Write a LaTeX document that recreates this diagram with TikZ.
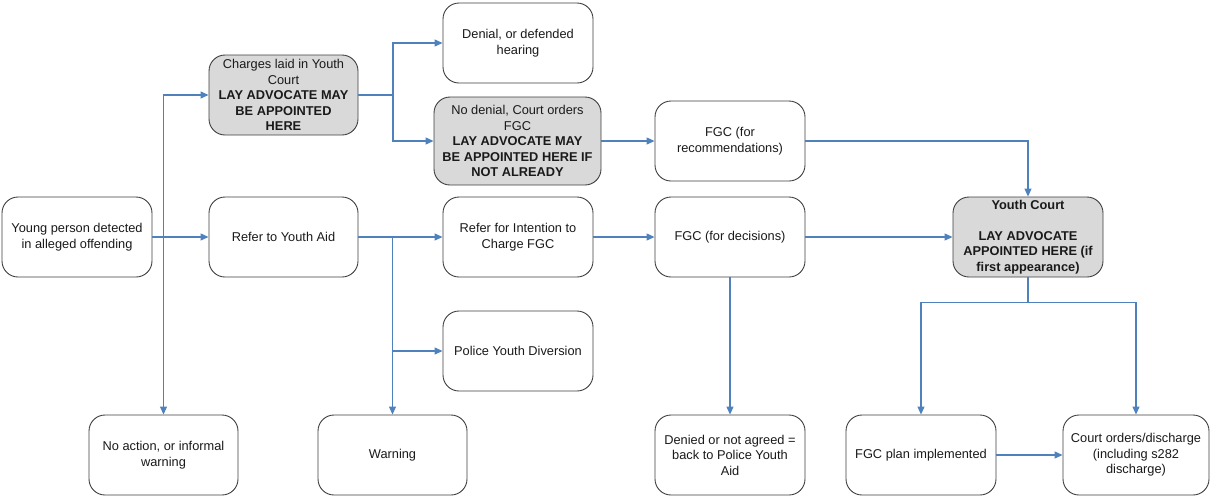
\documentclass[tikz,border=0pt]{standalone}
\usepackage{fontspec}
\setmainfont{Liberation Sans}
\usetikzlibrary{arrows.meta,calc}
\definecolor{linkblue}{HTML}{4F81BD}
\definecolor{boxline}{HTML}{3F3F3F}
\definecolor{boxfill}{HTML}{D9D9D9}
\definecolor{txt}{HTML}{1A1A1A}
\tikzset{
  box/.style={draw=boxline, line width=0.9pt, rounded corners=16pt, fill=white,
    minimum width=150pt, minimum height=80pt, inner sep=1pt, align=center,
    text=txt, font=\fontsize{12.8}{15.5}\selectfont},
  hbox/.style={box, fill=boxfill},
  link/.style={draw=linkblue, line width=1.1pt},
  arr/.style={link, -{Triangle[length=8pt,width=7pt]}}
}
\begin{document}
\begin{tikzpicture}[x=1pt,y=-1pt]
\useasboundingbox (0,0) rectangle (1210,496);
% nodes
\node[box] (young) at (77,237) {Young person detected\\in alleged offending};
\node[hbox, minimum width=149pt] (charges) at (283.5,95) {Charges laid in Youth\\Court\\\textbf{LAY ADVOCATE MAY}\\\textbf{BE APPOINTED}\\\textbf{HERE}};
\node[box, minimum width=149pt] (refer) at (283.5,237) {Refer to Youth Aid};
\node[box] (denial) at (518,43) {Denial, or defended\\hearing};
\node[hbox, minimum width=167pt, minimum height=88pt] (nodenial) at (517.5,141) {No denial, Court orders\\FGC\\\textbf{LAY ADVOCATE MAY}\\\textbf{BE APPOINTED HERE IF}\\\textbf{NOT ALREADY}};
\node[box] (intent) at (518,237) {Refer for Intention to\\Charge FGC};
\node[box] (fgcrec) at (730,141) {FGC (for\\recommendations)};
\node[box] (fgcdec) at (730,237) {FGC (for decisions)};
\node[hbox] (court) at (1028,237) {\textbf{Youth Court}\\[15.5pt]\textbf{LAY ADVOCATE}\\\textbf{APPOINTED HERE (if}\\\textbf{first appearance)}};
\node[box] (diversion) at (518,351) {Police Youth Diversion};
\node[box, minimum width=149pt] (noaction) at (163.5,455) {No action, or informal\\warning};
\node[box, minimum width=149pt] (warning) at (392.5,455) {Warning};
\node[box] (denied) at (730,455) {Denied or not agreed =\\back to Police Youth\\Aid};
\node[box] (plan) at (921,455) {FGC plan implemented};
\node[box, minimum width=146pt] (orders) at (1136,455) {Court orders/discharge\\(including s282\\discharge)};
% junctions
\coordinate (j1) at (noaction.north |- young.east);
\coordinate (j2) at (393,95);
\coordinate (j3) at (warning.north |- refer.east);
\coordinate (j4) at ($(court.south)+(0,25)$);
% connectors
\draw[arr] (young.east) -- (refer.west);
\draw[arr] (j1) |- (charges.west);
\draw[arr] (j1) -- (noaction.north);
\draw[link] (charges.east) -- (j2);
\draw[arr] (j2) |- (denial.west);
\draw[arr] (j2) |- (nodenial.west);
\draw[arr] (nodenial.east) -- (fgcrec.west);
\draw[arr] (fgcrec.east) -| (court.north);
\draw[arr] (refer.east) -- (intent.west);
\draw[arr] (j3) -- (warning.north);
\draw[arr] (j3 |- diversion.west) -- (diversion.west);
\draw[arr] (intent.east) -- (fgcdec.west);
\draw[arr] (fgcdec.east) -- (court.west);
\draw[arr] (fgcdec.south) -- (denied.north);
\draw[link] (court.south) -- (j4);
\draw[arr] (j4) -| (plan.north);
\draw[arr] (j4) -| (orders.north);
\draw[arr] (plan.east) -- (orders.west);
\end{tikzpicture}
\end{document}
